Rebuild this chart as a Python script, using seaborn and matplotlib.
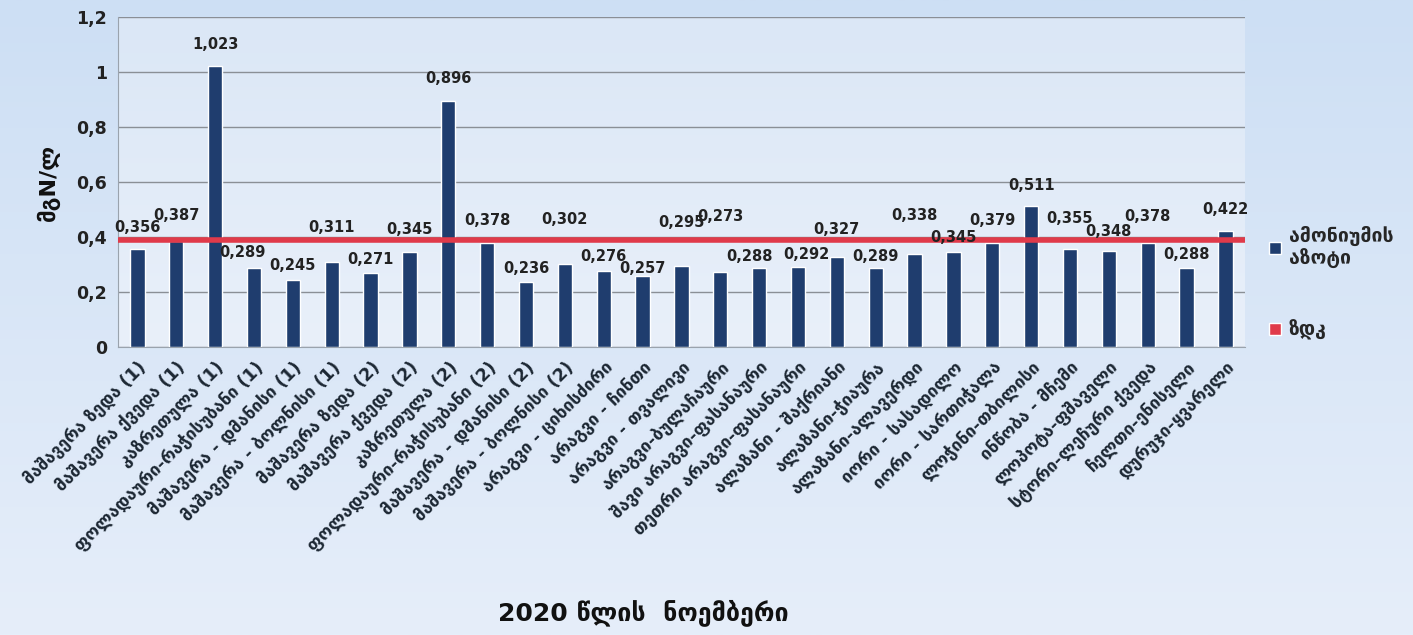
import numpy as np
import pandas as pd
import matplotlib
matplotlib.use("Agg")
import matplotlib.pyplot as plt
import seaborn as sns
from matplotlib.patches import Patch

# sampling points, November 2020
sites = [
    "მაშავერა ზედა (1)", "მაშავერა ქვედა (1)", "კაზრეთულა (1)",
    "ფოლადაური-რაჭისუბანი (1)", "მაშავერა - დმანისი (1)", "მაშავერა - ბოლნისი (1)",
    "მაშავერა ზედა (2)", "მაშავერა ქვედა (2)", "კაზრეთულა (2)",
    "ფოლადაური-რაჭისუბანი (2)", "მაშავერა - დმანისი (2)", "მაშავერა - ბოლნისი (2)",
    "არაგვი - ციხისძირი", "არაგვი - ჩინთი", "არაგვი - თვალივი",
    "არაგვი-ბულაჩაური", "შავი არაგვი-ფასანაური", "თეთრი არაგვი-ფასანაური",
    "ალაზანი - შაქრიანი", "ალაზანი-ჭიაურა", "ალაზანი-ალავერდი",
    "იორი - სასადილო", "იორი - სართიჭალა", "ლოჭინი-თბილისი",
    "ინწობა - მჩემი", "ლოპოტა-ფშაველი", "სტორი-ლეჩური ქვედა",
    "ჩელთი-ენისელი", "დურუჯი-ყვარელი",
]
ammonium = [0.356, 0.387, 1.023, 0.289, 0.245, 0.311, 0.271, 0.345, 0.896, 0.378,
            0.236, 0.302, 0.276, 0.257, 0.295, 0.273, 0.288, 0.292, 0.327, 0.289,
            0.338, 0.345, 0.379, 0.511, 0.355, 0.348, 0.378, 0.288, 0.422]
norm_value = 0.39  # ზდკ

# where the data labels sit (Excel moved many of them by hand)
label_y = [0.434, 0.48, 1.10, 0.345, 0.295, 0.434, 0.32, 0.426, 0.978, 0.46,
           0.287, 0.464, 0.33, 0.287, 0.452, 0.474, 0.33, 0.338, 0.426, 0.33,
           0.478, 0.40, 0.46, 0.588, 0.467, 0.419, 0.474, 0.335, 0.50]
label_dx = [0.0] * len(sites)
label_dx[3] = -0.3
label_dx[16] = -0.25
label_dx[17] = 0.22

df = pd.DataFrame({"site": sites, "value": ammonium})

sns.set_style("white")
plt.rcParams["font.family"] = ["DejaVu Sans"]

fig = plt.figure(figsize=(14.13, 6.35), dpi=100)

# background gradient
bg = fig.add_axes([0, 0, 1, 1], zorder=-10)
grad = np.linspace(0, 1, 256).reshape(-1, 1)
bg.imshow(grad, aspect="auto", cmap=matplotlib.colors.LinearSegmentedColormap.from_list(
    "bgc", ["#cddff4", "#e6eefa"]), extent=[0, 1, 0, 1])
bg.axis("off")

ax = fig.add_axes([0.0835, 0.4535, 0.7975, 0.5197])
ax.set_facecolor("none")
# plot area gradient
ax.imshow(grad, aspect="auto", cmap=matplotlib.colors.LinearSegmentedColormap.from_list(
    "pac", ["#dbe7f6", "#e9f0fa"]), extent=[-0.5, len(sites) - 0.5, 0, 1.2], zorder=0)

sns.barplot(data=df, x="site", y="value", color="#1f3d6e", width=0.37,
            saturation=1, ax=ax, zorder=3)
ax.axhline(norm_value, color="#e03a4a", lw=4, zorder=4)

ax.set_xlim(-0.5, len(sites) - 0.5)
ax.set_ylim(0, 1.2)
ax.set_yticks(np.arange(0, 1.21, 0.2))
ax.set_yticklabels(["0", "0,2", "0,4", "0,6", "0,8", "1", "1,2"],
                   fontsize=12.5, fontweight="bold", color="#222")
ax.yaxis.grid(True, color="#8a8f96", lw=1)
ax.set_axisbelow(True)
for s in ["top", "right"]:
    ax.spines[s].set_visible(False)
ax.spines["left"].set_color("#9aa3ad")
ax.spines["bottom"].set_color("#9aa3ad")
ax.tick_params(axis="both", length=0, pad=8)

ax.set_xticks(range(len(sites)))
ax.set_xticklabels(sites, rotation=45, ha="right", rotation_mode="anchor",
                   fontsize=12.5, fontweight="bold", color="#1c2733")
ax.tick_params(axis="x", pad=8)

for i, (v, ly, dx) in enumerate(zip(ammonium, label_y, label_dx)):
    ax.text(i + dx, ly, f"{v:.3f}".replace(".", ","), ha="center", va="center",
            fontsize=10.5, fontweight="bold", color="#222", zorder=5)

ax.set_xlabel("")
ax.set_ylabel("მგN/ლ", fontsize=16, fontweight="bold", color="#111", labelpad=12)
fig.text(0.455, 0.036, "2020 წლის  ნოემბერი", ha="center", va="center",
         fontsize=18, fontweight="bold", color="#111")

handles = [Patch(facecolor="#1f3d6e", label="ამონიუმის\nაზოტი"),
           Patch(facecolor="#e03a4a", label="ზდკ")]
fig.legend(handles=handles, loc="upper left", bbox_to_anchor=(0.886, 0.672),
           frameon=False, prop={"size": 14, "weight": "bold"},
           handlelength=0.6, handleheight=0.6, handletextpad=0.4, labelspacing=2.6)

fig.savefig("out.png", dpi=100)
